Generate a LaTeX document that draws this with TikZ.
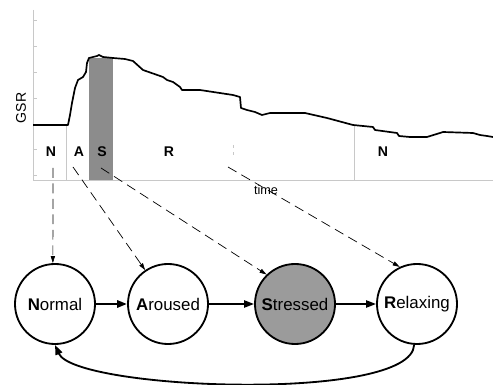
\documentclass[tikz,border=0pt]{standalone}
\usepackage{fontspec}
\setmainfont{Liberation Sans}
\usetikzlibrary{arrows.meta, positioning, calc}

\definecolor{axisgray}{RGB}{200,200,200}
\definecolor{bargray}{RGB}{140,140,140}
\definecolor{stategray}{RGB}{155,155,155}

\begin{document}
\begin{tikzpicture}[x=0.025cm, y=-0.025cm,
  state/.style={draw, circle, line width=1.3pt, minimum size=2cm, inner sep=0pt,
    font=\fontsize{12}{14}\selectfont},
  phase/.style={font=\fontsize{10}{12}\selectfont\bfseries},
  link/.style={line width=1.3pt, -{Triangle[length=7pt,width=5pt]}},
  pointer/.style={line width=0.5pt, dash pattern=on 7pt off 4pt,
    -{Triangle[length=5pt,width=3pt]}}]
\useasboundingbox (0,0) rectangle (493,385);

% Axes and ticks
\draw[axisgray, line width=0.7pt] (33,10) -- (33,180) -- (493,180);
\foreach \ty in {20,46,72,98,124,149,175} {
    \draw[axisgray, line width=0.7pt] (33,\ty) -- (37,\ty);
}
\node[rotate=90, font=\fontsize{10}{12}\selectfont] (gsr) at (21,108) {GSR};
\node[font=\fontsize{9}{11}\selectfont] (time) at (266,190) {time};

% Stress window
\fill[bargray] (89,58) rectangle (113,180);
\draw[axisgray, line width=0.6pt] (66,125) -- (66,180);
\draw[axisgray, line width=0.6pt] (354,125) -- (354,180);
\draw[axisgray, line width=0.6pt, dash pattern=on 2pt off 3pt] (233,145) -- (233,158);

% GSR trace
\draw[line width=1.2pt, line join=round] plot coordinates {
  (33,125) (68,125) (70,115) (72,103) (74,93) (75,88) (78,80) (83,77) (86,72)
  (87,63) (89,58) (97,56) (99,55) (103,57) (113,58) (125,59) (133,61) (143,70)
  (163,77) (167,80) (173,82) (180,87) (182,90) (200,90) (233,95) (240,97)
  (241,108) (247,110) (255,112) (262,115) (270,113) (305,113) (327,118)
  (353,125) (373,127) (375,130) (397,133) (399,136) (410,137) (427,137)
  (440,133) (443,132) (473,133) (480,135) (487,136) (493,137)};

% Phase labels
\node[phase] (pN) at (51,152) {N};
\node[phase] (pA) at (79,152) {A};
\node[phase] (pS) at (102,152) {S};
\node[phase] (pR) at (169,152) {R};
\node[phase] (pN2) at (383,152) {N};

% States
\node[state] (normal) at (55,304) {\textbf{N}ormal};
\node[state] (aroused) at (168,304) {\textbf{A}roused};
\node[state, fill=stategray] (stressed) at (295,304) {\textbf{S}tressed};
\node[state] (relaxing) at (417,304) {\textbf{R}elaxing};

\draw[link, line width=1.9pt] (normal) -- (aroused);
\draw[link] (aroused) -- (stressed);
\draw[link] (stressed) -- (relaxing);
\draw[link] (relaxing.266) .. controls (412,403) and (75,390) .. (normal.270);

% From time windows to states
\coordinate (fromN) at (53,168);
\coordinate (fromA) at (73,167);
\coordinate (fromS) at (101,168);
\coordinate (fromR) at (228,167);
\draw[pointer] (fromN) -- (normal.93);
\draw[pointer] (fromA) -- (aroused.124);
\draw[pointer] (fromS) -- (stressed.134);
\draw[pointer] (fromR) -- (relaxing.115);
\end{tikzpicture}
\end{document}
